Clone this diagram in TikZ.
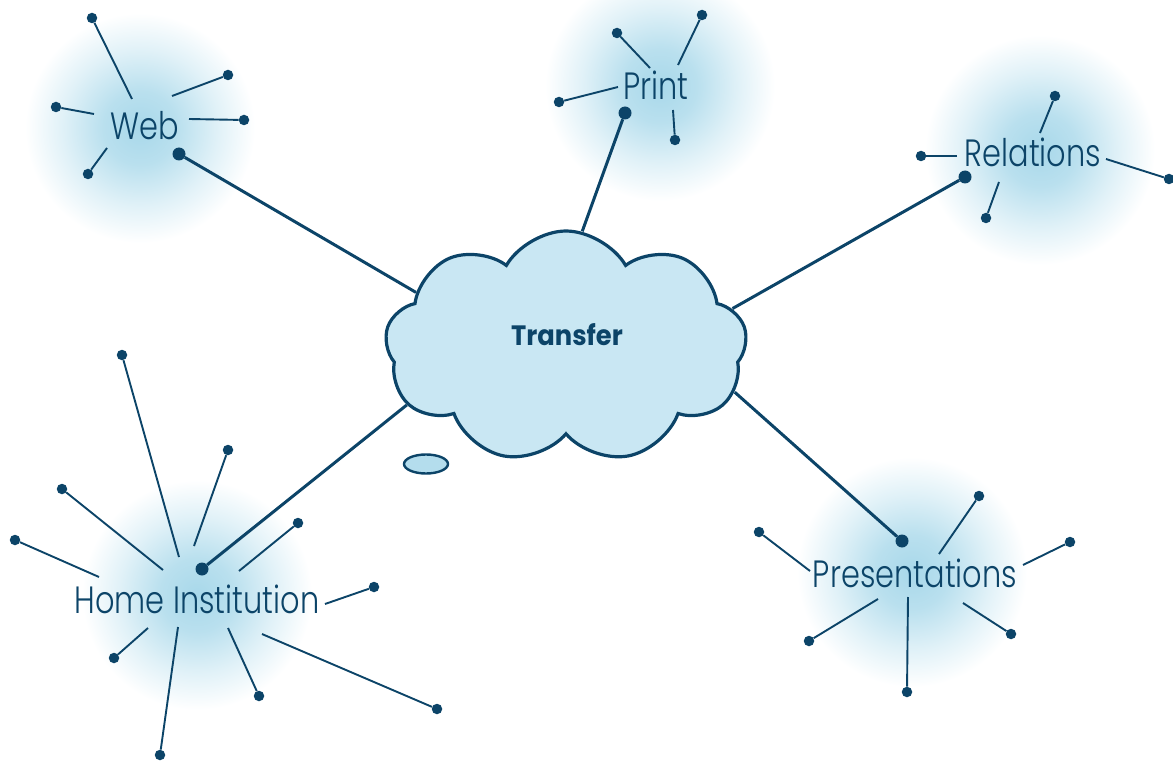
\documentclass[tikz,border=0pt]{standalone}
\usepackage{fontspec}
\newfontfamily\mapfont{Poppins Light}[FakeStretch=0.8]
\newfontfamily\hubfont{Poppins Bold}[FakeStretch=0.92]
\usetikzlibrary{shapes.symbols,shapes.geometric}
\definecolor{ink}{RGB}{12,68,104}
\definecolor{cloudblue}{RGB}{201,231,243}
\definecolor{tailblue}{RGB}{180,221,237}
\definecolor{glowblue}{RGB}{168,216,234}
\pgfdeclareradialshading{halo}{\pgfpoint{0bp}{0bp}}{color(0bp)=(glowblue); color(8bp)=(glowblue!80!white); color(17bp)=(glowblue!35!white); color(25bp)=(white); color(50bp)=(white)}

\begin{document}
\begin{tikzpicture}[x=1pt,y=-1pt,
  topic/.style={font=\mapfont\fontsize{38}{40}\selectfont,text=ink,inner sep=0pt,anchor=base},
  hub/.style={circle,fill=ink,inner sep=0pt,minimum size=13pt},
  leaf/.style={circle,fill=ink,inner sep=0pt,minimum size=10.5pt},
  link/.style={draw=ink,line width=3pt},
  spoke/.style={draw=ink,line width=1.9pt},
  bubble/.style={draw=ink,line width=3.2pt,fill=cloudblue}]

  \useasboundingbox (0,0) rectangle (1173,762);

  % glows behind the topics
  \shade[shading=halo] (140,128) circle (115pt);
  \shade[shading=halo] (660,86)  circle (115pt);
  \shade[shading=halo] (1040,150) circle (115pt);
  \shade[shading=halo] (197,595) circle (115pt);
  \shade[shading=halo] (912,572) circle (115pt);

  % the thought bubble
  \node[bubble,cloud,cloud puffs=9,cloud puff arc=120,aspect=1.6,shape border rotate=10,
        minimum width=362pt,minimum height=232pt,inner sep=0pt] (transfer) at (566,347) {};
  \node[font=\hubfont\fontsize{28}{30}\selectfont,text=ink,inner sep=0pt,anchor=base] (transfertxt) at (567,345) {Transfer};
  \node[bubble,ellipse,line width=2.4pt,fill=tailblue,minimum width=44pt,minimum height=19pt,inner sep=0pt] (tail) at (426,464) {};

  % topics
  \node[topic] at (145,140)  (web)       {Web} ;
  \node[topic] at (656,100)  (print)     {Print} ;
  \node[topic] at (1033,167) (relations) {Relations} ;
  \node[topic] at (197,613)  (home)      {Home Institution} ;
  \node[topic] at (915,587)  (present)   {Presentations} ;

  \node[hub] at (179,154) (webhub)     {} ;
  \node[hub] at (625,113) (printhub)   {} ;
  \node[hub] at (965,177) (relhub)     {} ;
  \node[hub] at (202,569) (homehub)    {} ;
  \node[hub] at (902,541) (presenthub) {} ;

  \draw[link] (webhub)     -- (transfer.160) ;
  \draw[link] (printhub)   -- (transfer.82) ;
  \draw[link] (relhub)     -- (transfer.13) ;
  \draw[link] (homehub)    -- (transfer.200) ;
  \draw[link] (presenthub) -- (transfer.-15) ;

  % Web
  \node[leaf] at (92,18)   (w1) {} ; \coordinate (w1i) at (132,99) ;
  \node[leaf] at (228,75)  (w2) {} ; \coordinate (w2i) at (172,96) ;
  \node[leaf] at (56,107)  (w3) {} ; \coordinate (w3i) at (94,114) ;
  \node[leaf] at (244,120) (w4) {} ; \coordinate (w4i) at (189,119) ;
  \node[leaf] at (88,174)  (w5) {} ; \coordinate (w5i) at (107,148) ;
  \draw[spoke] (w1i) -- (w1) ;
  \draw[spoke] (w2i) -- (w2) ;
  \draw[spoke] (w3i) -- (w3) ;
  \draw[spoke] (w4i) -- (w4) ;
  \draw[spoke] (w5i) -- (w5) ;

  % Print
  \node[leaf] at (617,33)  (p1) {} ; \coordinate (p1i) at (650,68) ;
  \node[leaf] at (702,15)  (p2) {} ; \coordinate (p2i) at (678,65) ;
  \node[leaf] at (559,102) (p3) {} ; \coordinate (p3i) at (618,87) ;
  \node[leaf] at (675,140) (p4) {} ; \coordinate (p4i) at (673,110) ;
  \draw[spoke] (p1i) -- (p1) ;
  \draw[spoke] (p2i) -- (p2) ;
  \draw[spoke] (p3i) -- (p3) ;
  \draw[spoke] (p4i) -- (p4) ;

  % Relations
  \node[leaf] at (921,156)  (r1) {} ; \coordinate (r1i) at (957,156) ;
  \node[leaf] at (1055,96)  (r2) {} ; \coordinate (r2i) at (1040,133) ;
  \node[leaf] at (986,218)  (r3) {} ; \coordinate (r3i) at (999,182) ;
  \node[leaf] at (1169,179) (r4) {} ; \coordinate (r4i) at (1106,159) ;
  \draw[spoke] (r1i) -- (r1) ;
  \draw[spoke] (r2i) -- (r2) ;
  \draw[spoke] (r3i) -- (r3) ;
  \draw[spoke] (r4i) -- (r4) ;

  % Home Institution
  \node[leaf] at (122,355) (h1)  {} ; \coordinate (h1i)  at (179,557) ;
  \node[leaf] at (228,450) (h2)  {} ; \coordinate (h2i)  at (194,546) ;
  \node[leaf] at (62,489)  (h3)  {} ; \coordinate (h3i)  at (163,570) ;
  \node[leaf] at (15,540)  (h4)  {} ; \coordinate (h4i)  at (99,577) ;
  \node[leaf] at (298,523) (h5)  {} ; \coordinate (h5i)  at (239,571) ;
  \node[leaf] at (374,587) (h6)  {} ; \coordinate (h6i)  at (325,604) ;
  \node[leaf] at (114,658) (h7)  {} ; \coordinate (h7i)  at (148,628) ;
  \node[leaf] at (160,755) (h8)  {} ; \coordinate (h8i)  at (178,627) ;
  \node[leaf] at (259,696) (h9)  {} ; \coordinate (h9i)  at (228,628) ;
  \node[leaf] at (437,709) (h10) {} ; \coordinate (h10i) at (262,634) ;
  \draw[spoke] (h1i)  -- (h1) ;
  \draw[spoke] (h2i)  -- (h2) ;
  \draw[spoke] (h3i)  -- (h3) ;
  \draw[spoke] (h4i)  -- (h4) ;
  \draw[spoke] (h5i)  -- (h5) ;
  \draw[spoke] (h6i)  -- (h6) ;
  \draw[spoke] (h7i)  -- (h7) ;
  \draw[spoke] (h8i)  -- (h8) ;
  \draw[spoke] (h9i)  -- (h9) ;
  \draw[spoke] (h10i) -- (h10) ;

  % Presentations
  \node[leaf] at (759,532)  (s1) {} ; \coordinate (s1i) at (810,571) ;
  \node[leaf] at (979,496)  (s2) {} ; \coordinate (s2i) at (939,554) ;
  \node[leaf] at (1070,542) (s3) {} ; \coordinate (s3i) at (1023,565) ;
  \node[leaf] at (809,641)  (s4) {} ; \coordinate (s4i) at (878,599) ;
  \node[leaf] at (907,692)  (s5) {} ; \coordinate (s5i) at (908,597) ;
  \node[leaf] at (1011,634) (s6) {} ; \coordinate (s6i) at (963,603) ;
  \draw[spoke] (s1i) -- (s1) ;
  \draw[spoke] (s2i) -- (s2) ;
  \draw[spoke] (s3i) -- (s3) ;
  \draw[spoke] (s4i) -- (s4) ;
  \draw[spoke] (s5i) -- (s5) ;
  \draw[spoke] (s6i) -- (s6) ;

\end{tikzpicture}
\end{document}
